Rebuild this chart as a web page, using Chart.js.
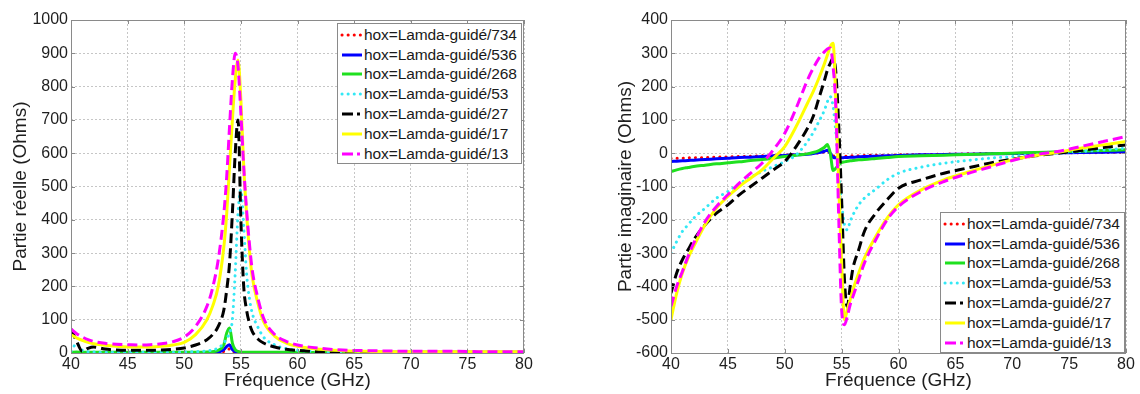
<!DOCTYPE html>
<html>
<head>
<meta charset="utf-8">
<title>Partie réelle / imaginaire</title>
<script src="https://cdn.jsdelivr.net/npm/chart.js@4.4.1/dist/chart.umd.min.js"></script>
<style>
  html, body { margin: 0; padding: 0; background: #fff; }
  body { width: 1140px; height: 394px; position: relative; overflow: hidden;
         font-family: "Liberation Sans", Arial, sans-serif; }
  canvas { position: absolute; top: 0; }
  #reelCanvas { left: 0; }
  #imagCanvas { left: 580px; }
  .legend { position: absolute; width: 185px; height: 141px; box-sizing: border-box;
            border: 1px solid #8a8a8a; background: #fff; padding-top: 1px; }
  .legend .row { height: 19.8px; display: flex; align-items: center; white-space: nowrap;
                 font-size: 15.5px; color: #1a1a1a; letter-spacing: -0.1px; }
  .legend svg { flex: none; margin-left: 2px; margin-right: 1px; }
  #legendReel { left: 337px; top: 23px; }
  #legendImag { left: 940px; top: 212px; }
</style>
</head>
<body>
<canvas id="reelCanvas" width="545" height="394"></canvas>
<canvas id="imagCanvas" width="560" height="394"></canvas>
<div class="legend" id="legendReel"></div>
<div class="legend" id="legendImag"></div>
<script>
// Frequency samples (GHz), denser around the resonance
const freqGHz = [
  40, 40.5, 41, 41.5, 42,
  43, 44, 45, 46, 47, 48, 49, 50, 51, 52,
  52.5, 53, 53.5, 53.75, 54, 54.25, 54.5, 54.75,
  55, 55.25, 55.5, 55.75, 56, 56.5, 57, 58, 59, 60,
  62, 64, 66, 68, 70, 72, 74, 76, 78, 80
];

const seriesNames = [
  'hox=Lamda-guidé/734', 'hox=Lamda-guidé/536', 'hox=Lamda-guidé/268',
  'hox=Lamda-guidé/53', 'hox=Lamda-guidé/27', 'hox=Lamda-guidé/17', 'hox=Lamda-guidé/13'
];

// Partie réelle (Ohms)
const reel734 = [
  0.5, 0.5, 0.5, 0.5, 0.5,
  0.5, 0.5, 0.5, 0.5, 0.5, 0.5, 0.5, 0.5, 0.5, 0.8,
  1, 2, 5, 10, 12, 5, 2, 1,
  0.8, 0.5, 0.5, 0.5, 0.5, 0.5, 0.5, 0.5, 0.5, 0.5,
  0.5, 0.5, 0.5, 0.5, 0.5, 0.5, 0.5, 0.5, 0.5, 0.5
];
const reel536 = [
  1, 1, 1, 1, 1,
  1, 1, 1, 1, 1, 1, 1, 1, 1, 1.5,
  2, 3, 10, 20, 25, 10, 4, 2,
  1.5, 1, 1, 1, 1, 1, 1, 1, 1, 1,
  1, 1, 1, 1, 1, 1, 1, 1, 1, 1
];
const reel268 = [
  2, 3, 2, 2, 2,
  2, 2, 2, 2, 2, 2, 2, 2, 2, 3,
  4, 8, 25, 60, 75, 30, 10, 5,
  3, 2, 2, 2, 2, 2, 2, 2, 2, 2,
  1.5, 1.5, 1.5, 1.5, 1.5, 1.5, 1.5, 1.5, 1.5, 1.5
];
const reel53 = [
  5, 28, 8, 4, 3,
  2, 2, 2, 2, 2, 2, 2, 3, 4, 6,
  9, 15, 30, 45, 60, 100, 240, 420,
  490, 380, 240, 165, 120, 78, 48, 24, 13, 8,
  4, 2, 1, 1, 1, 1, 1, 1, 1, 1
];
const reel27 = [
  72, 35, 5, 14, 18,
  12, 9, 8, 8, 8, 9, 11, 15, 24, 40,
  55, 80, 130, 190, 270, 420, 600, 700,
  400, 200, 130, 90, 65, 42, 30, 18, 11, 8,
  4, 3, 2, 2, 2, 2, 2, 2, 2, 2
];
const reel17 = [
  55, 45, 38, 32, 28,
  23, 20, 18, 18, 18, 20, 24, 32, 55, 100,
  140, 200, 320, 420, 560, 700, 820, 880,
  760, 560, 420, 310, 230, 150, 95, 50, 30, 20,
  11, 7, 5, 4, 4, 4, 4, 4, 4, 4
];
const reel13 = [
  72, 58, 48, 40, 35,
  29, 26, 25, 24, 25, 28, 34, 48, 80, 140,
  195, 280, 420, 530, 680, 820, 900, 860,
  720, 560, 430, 330, 250, 165, 105, 55, 35, 24,
  14, 9, 7, 6, 5, 5, 5, 4, 4, 4
];

// Partie imaginaire (Ohms)
const imag734 = [
  -16, -15, -15, -14, -14,
  -13, -12, -11, -10, -9, -8, -7, -6, -4, -2,
  -1, 1, 4, 6, 0, -8, -9, -9,
  -9, -9, -9, -8, -8, -8, -7, -6, -6, -5,
  -4, -3, -2, -1, -1, 0, 1, 1, 2, 3
];
const imag536 = [
  -25, -24, -23, -22, -21,
  -19, -17, -15, -13, -12, -10, -8, -7, -5, -3,
  -1, 2, 6, 9, 0, -12, -14, -14,
  -14, -13, -13, -12, -12, -11, -10, -9, -8, -7,
  -5, -4, -3, -2, -1, 0, 1, 2, 3, 4
];
const imag268 = [
  -55, -50, -46, -43, -40,
  -36, -32, -29, -26, -22, -19, -15, -10, -6, -2,
  2, 8, 18, 26, 0, -52, -45, -35,
  -28, -26, -24, -23, -22, -20, -19, -16, -13, -10,
  -8, -6, -4, -2, 0, 2, 4, 6, 8, 10
];
const imag53 = [
  -300, -265, -235, -215, -195,
  -165, -135, -115, -92, -72, -55, -40, -25, -5, 35,
  62, 95, 130, 155, 170, 140, 60, -50,
  -150, -215, -230, -205, -185, -155, -135, -108, -80, -60,
  -42, -30, -22, -15, -10, -5, 0, 5, 10, 15
];
const imag27 = [
  -420, -360, -320, -290, -260,
  -215, -180, -155, -125, -100, -75, -50, -25, 20, 75,
  110, 165, 220, 250, 270, 285, 240, 80,
  -140, -380, -460, -400, -345, -290, -235, -180, -140, -105,
  -80, -60, -45, -30, -18, -8, 0, 8, 17, 25
];
const imag17 = [
  -500, -420, -360, -315, -280,
  -215, -165, -130, -100, -75, -50, -15, 20, 80, 150,
  185, 225, 270, 295, 320, 330, 150, -100,
  -330, -500, -470, -440, -410, -360, -315, -250, -195, -155,
  -110, -80, -58, -38, -20, -7, 3, 15, 25, 35
];
const imag13 = [
  -460, -400, -355, -310, -270,
  -205, -160, -125, -90, -60, -30, 10, 60, 135, 220,
  255, 285, 305, 313, 316, 260, 130, -200,
  -470, -515, -490, -455, -430, -380, -330, -260, -200, -160,
  -115, -85, -62, -42, -22, -5, 5, 20, 35, 50
];

const reelSeries = [reel734, reel536, reel268, reel53, reel27, reel17, reel13];
const imagSeries = [imag734, imag536, imag268, imag53, imag27, imag17, imag13];

// MATLAB-like line styles: ':' '-' '-' ':' '-.' '-' '-.'
const lineStyles = [
  { color: '#ff0000', dash: [0.1, 6], cap: 'round', legendDash: '0.1 6' },
  { color: '#0000ff', dash: [],       cap: 'butt',  legendDash: '' },
  { color: '#1fe01f', dash: [],       cap: 'butt',  legendDash: '' },
  { color: '#33e8f5', dash: [0.1, 6], cap: 'round', legendDash: '0.1 6' },
  { color: '#000000', dash: [10, 5],  cap: 'butt',  legendDash: '11 4 3 4' },
  { color: '#ffff00', dash: [],       cap: 'butt',  legendDash: '' },
  { color: '#ff00ff', dash: [10, 5],  cap: 'butt',  legendDash: '11 4 3 4' }
];

const FONT = '"Liberation Sans", Arial, sans-serif';
const TEXT_COLOR = '#1e1e1e';

// draws the axes box and inward MATLAB ticks
const boxPlugin = {
  id: 'box',
  afterDraw(chart) {
    const { ctx, chartArea: a, scales } = chart;
    ctx.save();
    ctx.strokeStyle = '#8a8a8a';
    ctx.lineWidth = 1;
    ctx.strokeRect(a.left + 0.5, a.top + 0.5, a.right - a.left - 1, a.bottom - a.top);
    ctx.beginPath();
    scales.x.ticks.forEach(t => {
      const px = Math.round(scales.x.getPixelForValue(t.value)) + 0.5;
      ctx.moveTo(px, a.bottom); ctx.lineTo(px, a.bottom - 4);
      ctx.moveTo(px, a.top);    ctx.lineTo(px, a.top + 4);
    });
    scales.y.ticks.forEach(t => {
      const py = Math.round(scales.y.getPixelForValue(t.value)) + 0.5;
      ctx.moveTo(a.left, py);  ctx.lineTo(a.left + 4, py);
      ctx.moveTo(a.right, py); ctx.lineTo(a.right - 4, py);
    });
    ctx.stroke();
    ctx.restore();
  }
};

function makeChart(canvasId, series, opts) {
  const datasets = series.map((vals, i) => ({
    label: seriesNames[i],
    data: freqGHz.map((f, k) => ({ x: f, y: vals[k] })),
    borderColor: lineStyles[i].color,
    borderDash: lineStyles[i].dash,
    borderCapStyle: lineStyles[i].cap,
    borderWidth: 3,
    pointRadius: 0,
    fill: false,
    cubicInterpolationMode: 'monotone',
    order: series.length - i  // last series drawn on top
  }));

  return new Chart(document.getElementById(canvasId), {
    type: 'line',
    data: { datasets },
    options: {
      responsive: false,
      animation: false,
      layout: { padding: { top: 20, right: opts.padRight, left: 0, bottom: 0 } },
      plugins: { legend: { display: false }, tooltip: { enabled: false } },
      scales: {
        x: {
          type: 'linear', min: 40, max: 80,
          afterFit: s => { s.height = 41; },
          ticks: { stepSize: 5, padding: 2, color: TEXT_COLOR, font: { family: FONT, size: 16 },
                   callback: v => String(v) },
          grid: { color: '#c6c6c6', drawTicks: false },
          border: { display: false, dash: [2, 2] },
          title: { display: true, text: 'Fréquence (GHz)', color: TEXT_COLOR,
                   font: { family: FONT, size: 19 }, padding: { top: 0, bottom: 2 } }
        },
        y: {
          min: opts.yMin, max: opts.yMax,
          afterFit: s => { s.width = opts.yWidth; },
          ticks: { stepSize: 100, padding: 3, color: TEXT_COLOR, font: { family: FONT, size: 16 },
                   callback: v => String(v) },
          grid: { color: '#c6c6c6', drawTicks: false },
          border: { display: false, dash: [2, 2] },
          title: { display: true, text: opts.yTitle, color: TEXT_COLOR,
                   font: { family: FONT, size: 19 }, padding: { top: opts.yTitlePad, bottom: 0 } }
        }
      }
    },
    plugins: [boxPlugin]
  });
}

function buildLegend(elId) {
  const el = document.getElementById(elId);
  seriesNames.forEach((name, i) => {
    const st = lineStyles[i];
    const row = document.createElement('div');
    row.className = 'row';
    row.innerHTML =
      `<svg width="23" height="8"><line x1="2" y1="4" x2="22" y2="4" stroke="${st.color}"
         stroke-width="3" stroke-linecap="${st.cap}" stroke-dasharray="${st.legendDash}"/></svg>` +
      `<span>${name}</span>`;
    el.appendChild(row);
  });
}

makeChart('reelCanvas', reelSeries, {
  yMin: 0, yMax: 1000, yWidth: 71, yTitle: 'Partie réelle (Ohms)', yTitlePad: 9, padRight: 21
});
makeChart('imagCanvas', imagSeries, {
  yMin: -600, yMax: 400, yWidth: 91, yTitle: 'Partie imaginaire (Ohms)', yTitlePad: 34, padRight: 14
});
buildLegend('legendReel');
buildLegend('legendImag');
</script>
</body>
</html>
